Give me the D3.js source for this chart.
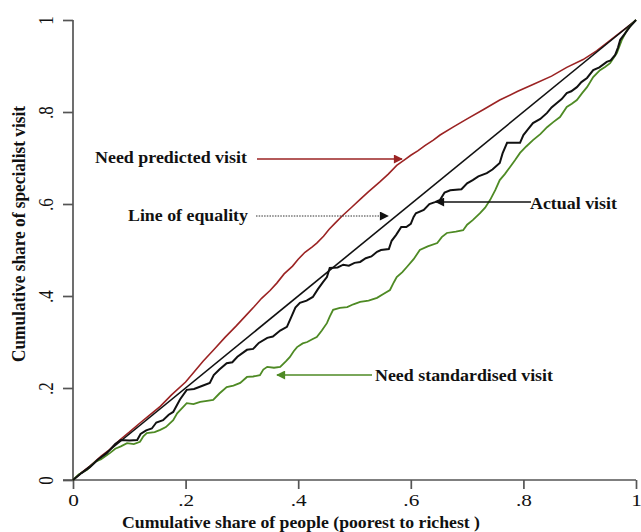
<!DOCTYPE html>
<html><head><meta charset="utf-8">
<script src="https://cdn.jsdelivr.net/npm/d3@7"></script>
<style>body{margin:0;background:#fff}svg{display:block}text{font-family:"Liberation Serif","Times New Roman",serif}</style>
</head><body>
<svg id="c" width="641" height="532"></svg>
<script>
const xTicks = [0, 0.2, 0.4, 0.6, 0.8, 1];
const yTicks = [0, 0.2, 0.4, 0.6, 0.8, 1];
const tickLabels = ["0", ".2", ".4", ".6", ".8", "1"];
const equality = [[0,0],[1,1]];
const predicted = [[0,0],[0.015,0.016],[0.03,0.03],[0.05,0.052],[0.065,0.066],[0.083,0.087],[0.1,0.104],[0.12,0.125],[0.135,0.14],[0.155,0.16],[0.175,0.185],[0.2,0.213],[0.215,0.235],[0.231,0.258],[0.25,0.283],[0.27,0.31],[0.29,0.335],[0.309,0.36],[0.322,0.377],[0.335,0.395],[0.35,0.412],[0.362,0.428],[0.375,0.448],[0.39,0.465],[0.4,0.48],[0.412,0.495],[0.425,0.507],[0.433,0.515],[0.445,0.53],[0.455,0.545],[0.466,0.559],[0.478,0.574],[0.495,0.593],[0.51,0.61],[0.525,0.627],[0.545,0.648],[0.56,0.665],[0.575,0.684],[0.59,0.697],[0.6,0.706],[0.613,0.716],[0.625,0.727],[0.64,0.739],[0.652,0.75],[0.675,0.767],[0.7,0.785],[0.73,0.806],[0.758,0.826],[0.79,0.845],[0.817,0.86],[0.85,0.878],[0.877,0.897],[0.906,0.914],[0.93,0.933],[0.95,0.952],[0.97,0.971],[0.985,0.985],[1,1]];
const actual = [[0,0],[0.015,0.015],[0.03,0.028],[0.045,0.045],[0.06,0.058],[0.075,0.078],[0.085,0.087],[0.1,0.086],[0.114,0.087],[0.12,0.1],[0.13,0.108],[0.14,0.112],[0.148,0.125],[0.16,0.13],[0.17,0.142],[0.178,0.148],[0.19,0.175],[0.202,0.196],[0.215,0.198],[0.23,0.205],[0.243,0.211],[0.25,0.228],[0.26,0.24],[0.273,0.254],[0.283,0.256],[0.292,0.268],[0.309,0.283],[0.32,0.285],[0.33,0.298],[0.345,0.309],[0.355,0.312],[0.368,0.325],[0.38,0.333],[0.388,0.355],[0.395,0.375],[0.403,0.385],[0.415,0.39],[0.426,0.398],[0.435,0.415],[0.444,0.43],[0.451,0.441],[0.456,0.461],[0.47,0.462],[0.48,0.468],[0.49,0.466],[0.5,0.472],[0.51,0.474],[0.52,0.482],[0.53,0.486],[0.54,0.496],[0.547,0.5],[0.561,0.502],[0.566,0.52],[0.574,0.533],[0.583,0.55],[0.592,0.55],[0.6,0.557],[0.605,0.572],[0.609,0.58],[0.623,0.587],[0.633,0.6],[0.643,0.604],[0.652,0.609],[0.66,0.625],[0.67,0.63],[0.69,0.632],[0.7,0.645],[0.71,0.652],[0.72,0.66],[0.735,0.667],[0.745,0.675],[0.758,0.689],[0.763,0.71],[0.771,0.733],[0.794,0.733],[0.8,0.75],[0.808,0.762],[0.817,0.776],[0.83,0.785],[0.842,0.798],[0.85,0.81],[0.86,0.82],[0.868,0.828],[0.877,0.841],[0.885,0.845],[0.895,0.854],[0.903,0.865],[0.913,0.874],[0.924,0.891],[0.935,0.897],[0.948,0.909],[0.955,0.912],[0.963,0.924],[0.968,0.94],[0.972,0.957],[0.98,0.97],[0.989,0.985],[1,1]];
const standardised = [[0,0],[0.01,0.012],[0.025,0.022],[0.04,0.04],[0.05,0.045],[0.066,0.059],[0.075,0.068],[0.085,0.073],[0.096,0.08],[0.108,0.078],[0.119,0.083],[0.125,0.095],[0.131,0.102],[0.145,0.104],[0.155,0.109],[0.165,0.115],[0.178,0.13],[0.185,0.145],[0.195,0.158],[0.202,0.167],[0.214,0.165],[0.226,0.17],[0.238,0.172],[0.249,0.174],[0.26,0.188],[0.273,0.202],[0.285,0.205],[0.297,0.211],[0.309,0.224],[0.32,0.225],[0.332,0.228],[0.338,0.24],[0.345,0.246],[0.357,0.244],[0.368,0.246],[0.378,0.258],[0.385,0.267],[0.392,0.28],[0.398,0.289],[0.408,0.297],[0.416,0.3],[0.425,0.306],[0.433,0.311],[0.442,0.325],[0.451,0.341],[0.456,0.355],[0.462,0.37],[0.474,0.374],[0.487,0.376],[0.498,0.382],[0.51,0.387],[0.525,0.39],[0.54,0.396],[0.552,0.405],[0.563,0.413],[0.57,0.43],[0.575,0.441],[0.585,0.452],[0.593,0.463],[0.605,0.48],[0.616,0.5],[0.63,0.508],[0.647,0.515],[0.655,0.528],[0.664,0.537],[0.68,0.54],[0.693,0.543],[0.7,0.555],[0.71,0.565],[0.723,0.58],[0.732,0.592],[0.741,0.609],[0.75,0.63],[0.758,0.652],[0.767,0.665],[0.776,0.68],[0.785,0.695],[0.794,0.711],[0.805,0.725],[0.817,0.739],[0.83,0.752],[0.842,0.767],[0.853,0.778],[0.865,0.789],[0.877,0.811],[0.886,0.818],[0.895,0.826],[0.905,0.842],[0.913,0.854],[0.924,0.876],[0.936,0.891],[0.945,0.898],[0.954,0.906],[0.966,0.928],[0.975,0.957],[0.984,0.978],[0.992,0.99],[1,1]];
const seriesNames = ["Need predicted visit", "Line of equality", "Actual visit", "Need standardised visit"];

const svg = d3.select("#c");
const x = d3.scaleLinear().domain([0,1]).range([73,636]);
const y = d3.scaleLinear().domain([0,1]).range([480,20]);
const axisColor = "#555";

const defs = svg.append("defs");
function marker(id, color) {
  defs.append("marker").attr("id", id).attr("viewBox","0 0 10 10").attr("refX",9).attr("refY",5)
    .attr("markerWidth",12).attr("markerHeight",9).attr("markerUnits","userSpaceOnUse").attr("orient","auto")
    .append("path").attr("d","M0,0L10,5L0,10Z").attr("fill", color);
}
marker("aRed", "#9b2323");
marker("aBlack", "#111");
marker("aGreen", "#4e8a24");

// axes
const xAxis = d3.axisBottom(x).tickValues(xTicks).tickSize(9).tickFormat((d,i)=>tickLabels[i]);
const gx = svg.append("g").attr("transform","translate(0,480)").call(xAxis);
gx.select(".domain").attr("stroke",axisColor).attr("stroke-width",1.7).attr("d", "M63,0H636");
gx.selectAll(".tick line").attr("stroke",axisColor).attr("stroke-width",1.7);
gx.selectAll(".tick text").attr("font-size",17).attr("fill","#111").attr("y",0).attr("dy",0)
  .attr("transform","translate(0,26) scale(1.25,1)").attr("font-family","Liberation Serif");

const yAxis = d3.axisLeft(y).tickValues(yTicks).tickSize(10).tickFormat((d,i)=>tickLabels[i]);
const gy = svg.append("g").attr("transform","translate(73,0)").call(yAxis);
gy.select(".domain").attr("stroke",axisColor).attr("stroke-width",1.7).attr("d","M0,480V20");
gy.selectAll(".tick line").attr("stroke",axisColor).attr("stroke-width",1.7);
gy.selectAll(".tick text").attr("font-size",17).attr("fill","#111")
  .attr("x",0).attr("dy",0).attr("text-anchor","middle")
  .attr("transform","translate(-20,0) scale(1.25,1) rotate(-90)").attr("font-family","Liberation Serif");

// lines
const line = d3.line().x(d=>x(d[0])).y(d=>y(d[1]));
svg.append("path").datum(predicted).attr("d",line).attr("fill","none").attr("stroke","#9b2323").attr("stroke-width",1.6);
svg.append("path").datum(equality).attr("d",line).attr("fill","none").attr("stroke","#111").attr("stroke-width",1.6);
svg.append("path").datum(standardised).attr("d",line).attr("fill","none").attr("stroke","#4e8a24").attr("stroke-width",1.8);
svg.append("path").datum(actual).attr("d",line).attr("fill","none").attr("stroke","#111").attr("stroke-width",2);

// annotations
const lab = (t,xp,yp,w) => svg.append("text").text(t).attr("x",xp).attr("y",yp)
  .attr("font-size",17.5).attr("font-weight","bold").attr("fill","#111")
  .attr("textLength",w).attr("lengthAdjust","spacingAndGlyphs");
lab(seriesNames[0], 95, 163, 152);
svg.append("line").attr("x1",257).attr("y1",159).attr("x2",402).attr("y2",159)
  .attr("stroke","#9b2323").attr("stroke-width",1.6).attr("marker-end","url(#aRed)");
lab(seriesNames[1], 128, 221, 120);
svg.append("line").attr("x1",256).attr("y1",216).attr("x2",388).attr("y2",216)
  .attr("stroke","#333").attr("stroke-width",1).attr("stroke-dasharray","1.5,1.2").attr("marker-end","url(#aBlack)");
lab(seriesNames[2], 530, 209, 87);
svg.append("line").attr("x1",531).attr("y1",202).attr("x2",436).attr("y2",202)
  .attr("stroke","#111").attr("stroke-width",1.4).attr("marker-end","url(#aBlack)");
lab(seriesNames[3], 375, 381, 178);
svg.append("line").attr("x1",372).attr("y1",375).attr("x2",277).attr("y2",375)
  .attr("stroke","#4e8a24").attr("stroke-width",1.6).attr("marker-end","url(#aGreen)");

// axis titles
svg.append("text").text("Cumulative share of people (poorest to richest )")
  .attr("x",122).attr("y",528).attr("font-size",17).attr("font-weight","bold").attr("fill","#111")
  .attr("textLength",358).attr("lengthAdjust","spacingAndGlyphs");
svg.append("text").text("Cumulative share of specialist visit")
  .attr("transform","translate(25,234) scale(1.2,1) rotate(-90)").attr("text-anchor","middle")
  .attr("font-size",16).attr("font-weight","bold").attr("fill","#111")
  .attr("textLength",256).attr("lengthAdjust","spacingAndGlyphs");
</script>
</body></html>
